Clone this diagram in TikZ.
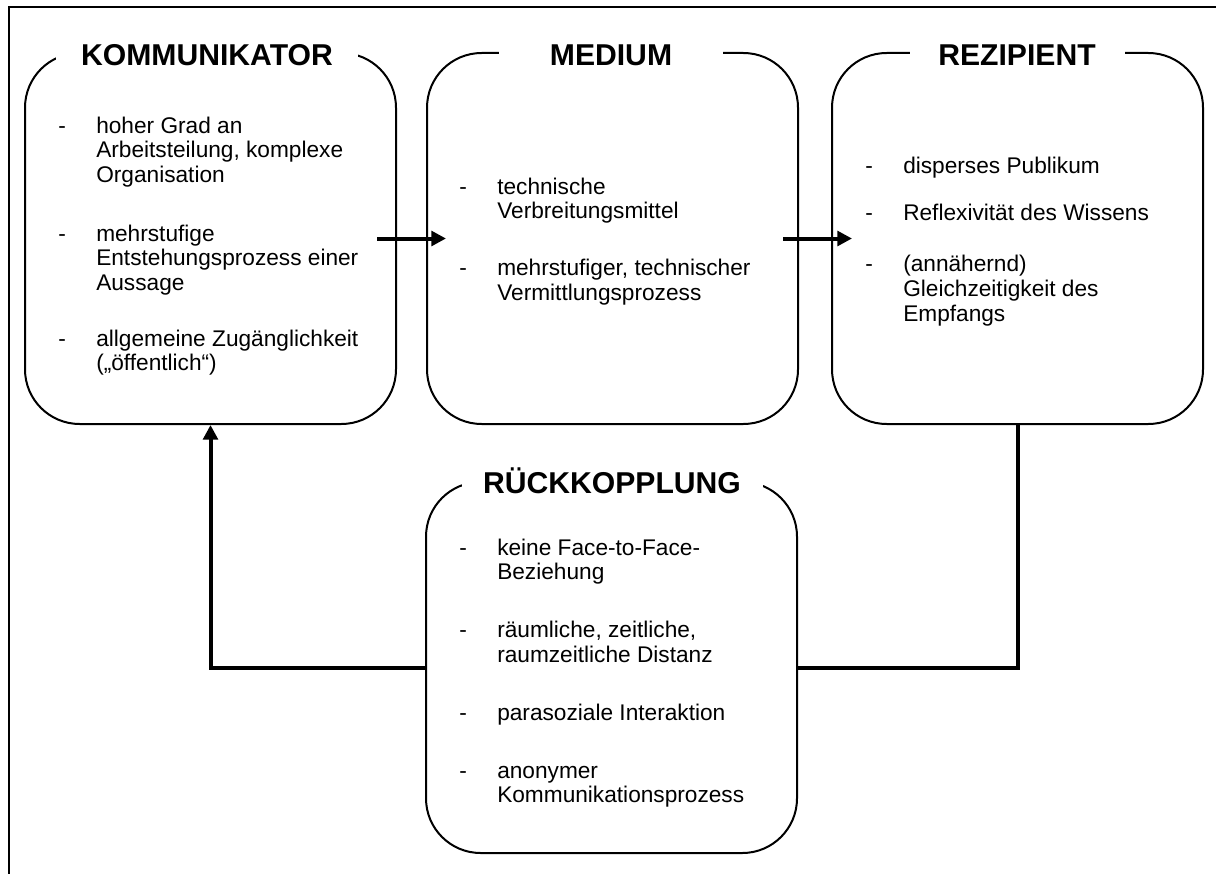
\documentclass[tikz,border=0pt]{standalone}
\usepackage{fontspec}
\setmainfont{Liberation Sans}
\usetikzlibrary{arrows.meta}
\begin{document}
\begin{tikzpicture}[x=0.75pt,y=-0.75pt,
  panel/.style={draw, line width=1.5pt, rounded corners=41pt,
    minimum width=278.25pt, minimum height=278.25pt, inner sep=0pt},
  headline/.style={fill=white, inner sep=0pt, anchor=base,
    font=\fontsize{22.6}{27}\selectfont\bfseries, text height=17pt, text depth=3pt},
  itemlist/.style={anchor=base west, inner sep=0pt, align=left,
    font=\fontsize{17}{18.4}\selectfont},
  flow/.style={line width=3pt, -{Triangle[length=11pt,width=11pt]}},
  feed/.style={line width=3pt}
]
\useasboundingbox (0,0) rectangle (1216,874);
% page frame (top and left edge)
\draw[line width=1.5pt] (1216,7) -- (9,7) -- (9,874);

% the four panels
\node[panel] (kom)   at (210.5,238.5) {};
\node[panel] (med)   at (612.5,238.5) {};
\node[panel] (rez)   at (1017.5,238.5) {};
\node[panel] (rueck) at (611.5,667.5) {};

% headings sitting in the top edge of each panel
\node[headline, minimum width=226.5pt]  (komT)   at (207,65)  {KOMMUNIKATOR};
\node[headline, minimum width=168pt]    (medT)   at (611,65)  {MEDIUM};
\node[headline, minimum width=161.25pt] (rezT)   at (1017,65) {REZIPIENT};
\node[headline, minimum width=225.75pt] (rueckT) at (612,493) {RÜCKKOPPLUNG};

% bullet lists
\node[itemlist] (komL) at (58,133) {\begin{tabular}[t]{@{}p{28.5pt}@{}l@{}}
-&hoher Grad an\\
 &Arbeitsteilung, komplexe\\
 &Organisation\\[25.9pt]
-&mehrstufige\\
 &Entstehungsprozess einer\\
 &Aussage\\[23.5pt]
-&allgemeine Zugänglichkeit\\
 &(„öffentlich“)
\end{tabular}};

\node[itemlist] (medL) at (459,194) {\begin{tabular}[t]{@{}p{28.5pt}@{}l@{}}
-&technische\\
 &Verbreitungsmittel\\[24.4pt]
-&mehrstufiger, technischer\\
 &Vermittlungsprozess
\end{tabular}};

\node[itemlist] (rezL) at (865,173) {\begin{tabular}[t]{@{}p{28.5pt}@{}l@{}}
-&disperses Publikum\\[16.9pt]
-&Reflexivität des Wissens\\[20.5pt]
-&(annähernd)\\
 &Gleichzeitigkeit des\\
 &Empfangs
\end{tabular}};

\node[itemlist] (rueckL) at (459,555) {\begin{tabular}[t]{@{}p{28.5pt}@{}l@{}}
-&keine Face-to-Face-\\
 &Beziehung\\[25.1pt]
-&räumliche, zeitliche,\\
 &raumzeitliche Distanz\\[25.1pt]
-&parasoziale Interaktion\\[25.1pt]
-&anonymer\\
 &Kommunikationsprozess
\end{tabular}};

% connectors
\draw[flow] ([xshift=-15pt]kom.east) -- ([xshift=15pt]med.west);
\draw[flow] ([xshift=-12pt]med.east) -- ([xshift=15.75pt]rez.west);
\draw[feed] (rez.south) |- (rueck.east);
\draw[flow] (rueck.west) -| (kom.south);
\end{tikzpicture}
\end{document}
